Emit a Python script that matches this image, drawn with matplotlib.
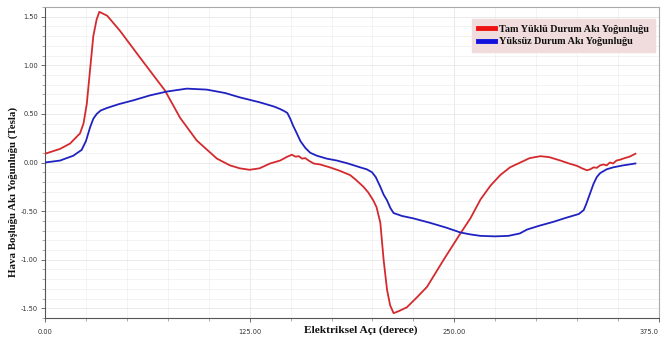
import matplotlib
matplotlib.use("Agg")
import matplotlib.pyplot as plt
from matplotlib.ticker import MultipleLocator, FixedLocator
from matplotlib.lines import Line2D

# Full-load flux density (red)
red_x = [0, 9.2, 15.3, 21.4, 23.5, 25.5, 27.5, 29.5, 31.5, 33.2, 38, 45.8, 58, 73.3, 82.5, 92.7,
         105, 113, 119, 125, 131, 137.5, 143.6, 148, 150.8, 153, 155, 157, 159, 161, 164, 168, 174,
         180, 186.4, 190, 194.5, 197.5, 200.5, 202.5, 204.8, 206.8, 208.9, 210.8, 212.9, 216, 221,
         227, 233.3, 243.5, 253.7, 259.8, 266, 272, 278, 284, 290.3, 296, 302.6, 308, 314.8, 320,
         325, 328, 331, 333, 335, 337, 339, 341, 343, 345, 347, 349, 351.5, 354, 357, 360.6]
red_y = [0.09, 0.14, 0.195, 0.30, 0.40, 0.60, 0.95, 1.30, 1.47, 1.55, 1.51, 1.355, 1.08, 0.74, 0.46, 0.226,
         0.04, -0.03, -0.06, -0.075, -0.06, -0.01, 0.02, 0.06, 0.08, 0.06, 0.065, 0.04, 0.045, 0.02, -0.01, -0.02, -0.05,
         -0.085, -0.13, -0.18, -0.25, -0.31, -0.39, -0.46, -0.62, -1.00, -1.31, -1.47, -1.55, -1.53, -1.49,
         -1.39, -1.28, -1.00, -0.73, -0.575, -0.38, -0.24, -0.13, -0.05, 0.0, 0.045, 0.065, 0.055, 0.02, -0.01,
         -0.035, -0.06, -0.08, -0.07, -0.05, -0.055, -0.03, -0.02, -0.03, 0.0, -0.01, 0.02, 0.03, 0.045, 0.06, 0.09]

# No-load flux density (blue)
blue_x = [0, 9.2, 17.3, 22.4, 25, 27.5, 29.5, 31.6, 34, 37.7, 45, 54, 64, 74.4, 86.6, 98.8, 110, 119,
          131, 140, 143.6, 146, 148, 149.8, 151.5, 153.8, 156, 159, 162, 166, 172, 178.3, 185, 192.5,
          196.5, 199.7, 202, 204.8, 206.8, 208.9, 211, 212.9, 218, 225, 235, 245, 253.7, 259.8, 266,
          275, 283, 290, 294.4, 302, 310.6, 318, 326, 329, 330.5, 332, 333.5, 335, 337, 339, 343, 347,
          353, 360.6]
blue_y = [0.0, 0.02, 0.07, 0.13, 0.22, 0.36, 0.45, 0.50, 0.535, 0.56, 0.60, 0.64, 0.69, 0.73, 0.76, 0.75, 0.715, 0.67,
          0.62, 0.575, 0.55, 0.53, 0.51, 0.45, 0.38, 0.30, 0.22, 0.15, 0.10, 0.07, 0.04, 0.02, -0.01, -0.05,
          -0.07, -0.10, -0.15, -0.25, -0.33, -0.39, -0.47, -0.52, -0.55, -0.575, -0.62, -0.67, -0.72, -0.74, -0.755,
          -0.76, -0.755, -0.73, -0.69, -0.65, -0.61, -0.57, -0.53, -0.49, -0.43, -0.36, -0.29, -0.22, -0.15, -0.11, -0.07, -0.05,
          -0.03, -0.01]

x_ticks = [0, 125, 250, 375]
x_ticklabels = ["0.00", "125.00", "250.00", "375.0"]
y_ticks = [-1.5, -1.0, -0.5, 0.0, 0.5, 1.0, 1.5]
y_ticklabels = ["-1.50", "-1.00", "-0.50", "0.00", "0.50", "1.00", "1.50"]

legend_labels = ["Tam Yüklü Durum Akı Yoğunluğu", "Yüksüz Durum Akı Yoğunluğu"]
red_color = "#d42a2e"
blue_color = "#1f22c0"

fig = plt.figure(figsize=(6.64, 3.41), dpi=100)
fig.patch.set_facecolor("white")
ax = fig.add_axes([45 / 664, 23 / 341, 614 / 664, 311 / 341])

ax.plot(red_x, red_y, color=red_color, lw=1.3, zorder=3)
ax.plot(blue_x, blue_y, color=blue_color, lw=1.3, zorder=3)

ax.set_xlim(0, 375)
ax.set_ylim(-1.6, 1.6)

ax.xaxis.set_major_locator(FixedLocator(x_ticks))
ax.set_xticklabels(x_ticklabels)
ax.xaxis.set_minor_locator(MultipleLocator(25))
ax.yaxis.set_major_locator(FixedLocator(y_ticks))
ax.set_yticklabels(y_ticklabels)
ax.yaxis.set_minor_locator(MultipleLocator(0.1))

ax.grid(which="minor", color="#efefef", lw=0.5, zorder=0)
ax.grid(which="major", color="#e6e6e6", lw=0.6, zorder=0)
ax.set_axisbelow(True)

ax.tick_params(axis="both", which="major", direction="out", length=3, width=0.6,
               colors="#555555", labelsize=4.8, labelcolor="#333333")
ax.tick_params(axis="both", which="minor", direction="out", length=2, width=0.5, colors="#888888")
ax.tick_params(axis="x", which="major", pad=5)
ax.tick_params(axis="y", which="major", pad=2)

# last x label sits against the right edge
last = ax.get_xticklabels()[-1]
last.set_horizontalalignment("right")
last.set_x(0)

for side in ["left", "bottom"]:
    ax.spines[side].set_color("#555555")
    ax.spines[side].set_linewidth(0.8)
for side in ["top", "right"]:
    ax.spines[side].set_color("#aaaaaa")
    ax.spines[side].set_linewidth(0.8)

fig.text(361 / 664, 1 - 330 / 341, "Elektriksel Açı (derece)", ha="center", va="center",
         family="Liberation Serif", fontweight="bold", fontsize=8.2, color="#111111")
fig.text(13 / 664, 1 - 192 / 341, "Hava Boşluğu Akı Yoğunluğu (Tesla)", ha="center", va="center",
         rotation=90, family="Liberation Serif", fontweight="bold", fontsize=7.8, color="#111111")

handles = [Line2D([0], [0], color="#ee1111", lw=3.5),
           Line2D([0], [0], color="#1111dd", lw=3.5)]
leg = ax.legend(handles, legend_labels, loc="upper right", bbox_to_anchor=(0.993, 0.962),
                prop={"family": "Liberation Serif", "weight": "bold", "size": 7.3},
                frameon=True, fancybox=False, handlelength=1.6, handletextpad=0.4,
                borderpad=0.6, labelspacing=0.3, borderaxespad=0)
leg.get_frame().set_facecolor("#f0dcdc")
leg.get_frame().set_edgecolor("#f0dcdc")
leg.get_frame().set_alpha(1)
for t in leg.get_texts():
    t.set_color("#111111")

fig.savefig("out.png", dpi=100)
